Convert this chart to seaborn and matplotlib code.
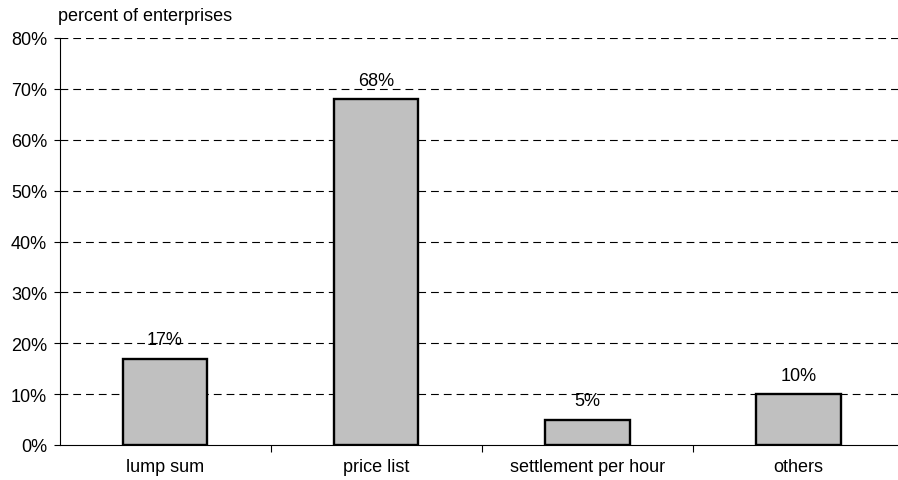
import pandas as pd
import seaborn as sns
import matplotlib.pyplot as plt
from matplotlib.ticker import FixedLocator

# Chart data
categories = ["lump sum", "price list", "settlement per hour", "others"]
shares = [17, 68, 5, 10]
y_ticks = [0, 10, 20, 30, 40, 50, 60, 70, 80]

df = pd.DataFrame({"method": categories, "share": shares})

sns.set_style("white")
plt.rcParams['font.family'] = ['Liberation Sans', 'DejaVu Sans']
plt.rcParams['text.color'] = 'black'
plt.rcParams['xtick.color'] = 'black'
plt.rcParams['ytick.color'] = 'black'
fs = 13

fig = plt.figure(figsize=(8.98, 4.81), dpi=100)
ax = fig.add_axes([59.5 / 898, 1 - 446 / 481, 844.5 / 898, 407 / 481])

sns.barplot(data=df, x="method", y="share", color="#c0c0c0", width=0.40,
            edgecolor="black", linewidth=1.7, saturation=1, ax=ax, zorder=3)

ax.set_ylim(0, 80)
ax.set_xlim(-0.5, 3.5)
ax.set_yticks(y_ticks)
ax.set_yticklabels([f"{t}%" for t in y_ticks])

# dashed horizontal grid
for t in y_ticks[1:]:
    ax.axhline(t, color="black", linewidth=0.8, linestyle=(0, (7, 4.5)), zorder=1)

# value labels above bars
for i, v in enumerate(shares):
    ax.text(i, v + 2.0, f"{v}%", ha="center", va="bottom", fontsize=fs, zorder=4)

ax.set_xlabel("")
ax.set_ylabel("")
ax.text(-0.002, 1.035, "percent of enterprises", transform=ax.transAxes,
        ha="left", va="bottom", fontsize=fs)

# separator ticks between categories
ax.xaxis.set_minor_locator(FixedLocator([0.5, 1.5, 2.5]))
ax.tick_params(axis="x", which="major", length=0, labelsize=fs, pad=9)
ax.tick_params(axis="x", which="minor", length=5, width=0.8, direction="out", color="black", bottom=True)
ax.tick_params(axis="y", length=4, width=0.8, direction="out", color="black", labelsize=fs, pad=5, left=True)

ax.spines['top'].set_visible(False)
ax.spines['right'].set_visible(False)
ax.spines['left'].set_color('black')
ax.spines['bottom'].set_color('black')
ax.spines['left'].set_linewidth(0.8)
ax.spines['bottom'].set_linewidth(0.8)

plt.savefig("out.png", dpi=100)
